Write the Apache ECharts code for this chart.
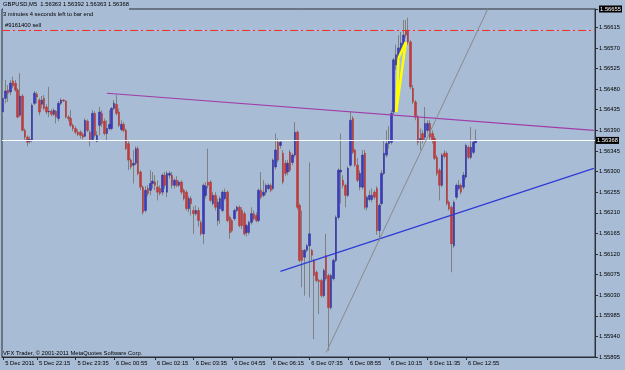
<!DOCTYPE html>
<html><head><meta charset="utf-8">
<script src="https://cdn.jsdelivr.net/npm/echarts@6/dist/echarts.min.js"></script>
<style>html,body{margin:0;padding:0;background:#a8bcd5}#c{width:625px;height:370px}</style>
</head><body><div id="c"></div>
<script>
// ---- data (GBPUSD M5) ----
const openP = [1.56430,1.56460,1.56478,1.56474,1.56498,1.56493,1.56478,1.56423,1.56465,1.56390,1.56375,1.56366,1.56368,1.56449,1.56469,1.56456,1.56447,1.56460,1.56441,1.56430,1.56432,1.56425,1.56432,1.56416,1.56449,1.56456,1.56454,1.56419,1.56416,1.56401,1.56394,1.56386,1.56386,1.56381,1.56377,1.56410,1.56386,1.56370,1.56427,1.56366,1.56401,1.56427,1.56410,1.56383,1.56394,1.56394,1.56438,1.56447,1.56430,1.56392,1.56403,1.56390,1.56361,1.56325,1.56314,1.56318,1.56350,1.56299,1.56266,1.56215,1.56263,1.56259,1.56274,1.56277,1.56266,1.56263,1.56255,1.56292,1.56255,1.56292,1.56292,1.56270,1.56281,1.56270,1.56277,1.56259,1.56255,1.56219,1.56241,1.56215,1.56208,1.56215,1.56189,1.56164,1.56248,1.56277,1.56277,1.56230,1.56248,1.56193,1.56219,1.56215,1.56241,1.56255,1.56200,1.56193,1.56197,1.56215,1.56222,1.56215,1.56208,1.56167,1.56167,1.56189,1.56208,1.56204,1.56193,1.56259,1.56248,1.56255,1.56263,1.56270,1.56263,1.56310,1.56364,1.56357,1.56340,1.56318,1.56299,1.56342,1.56320,1.56336,1.56386,1.56226,1.56128,1.56113,1.56128,1.56138,1.56128,1.56106,1.56080,1.56062,1.56062,1.56029,1.56117,1.56073,1.56003,1.56066,1.56106,1.56200,1.56299,1.56281,1.56270,1.56248,1.56314,1.56416,1.56347,1.56314,1.56266,1.56266,1.56340,1.56222,1.56239,1.56239,1.56255,1.56263,1.56171,1.56230,1.56296,1.56336,1.56361,1.56364,1.56430,1.56533,1.56544,1.56561,1.56572,1.56609,1.56609,1.56583,1.56482,1.56452,1.56419,1.56368,1.56383,1.56375,1.56390,1.56405,1.56383,1.56372,1.56331,1.56303,1.56270,1.56340,1.56340,1.56233,1.56222,1.56138,1.56244,1.56263,1.56270,1.56266,1.56288,1.56353,1.56331,1.56342,1.56363];
const closeP = [1.56460,1.56476,1.56471,1.56493,1.56487,1.56478,1.56419,1.56465,1.56390,1.56375,1.56364,1.56370,1.56445,1.56471,1.56463,1.56430,1.56456,1.56438,1.56430,1.56432,1.56425,1.56434,1.56419,1.56449,1.56456,1.56454,1.56419,1.56416,1.56401,1.56394,1.56386,1.56381,1.56379,1.56375,1.56412,1.56390,1.56368,1.56427,1.56379,1.56379,1.56430,1.56405,1.56383,1.56394,1.56403,1.56438,1.56449,1.56427,1.56401,1.56403,1.56390,1.56350,1.56325,1.56310,1.56318,1.56350,1.56296,1.56266,1.56211,1.56259,1.56252,1.56274,1.56279,1.56270,1.56255,1.56252,1.56292,1.56270,1.56296,1.56296,1.56270,1.56281,1.56270,1.56277,1.56255,1.56241,1.56219,1.56241,1.56230,1.56208,1.56215,1.56193,1.56164,1.56270,1.56268,1.56270,1.56237,1.56248,1.56222,1.56233,1.56241,1.56255,1.56255,1.56193,1.56167,1.56171,1.56215,1.56222,1.56182,1.56182,1.56164,1.56182,1.56189,1.56208,1.56197,1.56193,1.56259,1.56244,1.56255,1.56270,1.56270,1.56259,1.56325,1.56347,1.56325,1.56364,1.56277,1.56296,1.56318,1.56303,1.56336,1.56386,1.56222,1.56106,1.56106,1.56128,1.56138,1.56164,1.56117,1.56073,1.56062,1.56060,1.56029,1.56084,1.56066,1.56003,1.56073,1.56106,1.56200,1.56303,1.56303,1.56270,1.56248,1.56307,1.56412,1.56342,1.56314,1.56281,1.56296,1.56336,1.56222,1.56244,1.56248,1.56248,1.56244,1.56171,1.56226,1.56296,1.56340,1.56361,1.56368,1.56427,1.56544,1.56555,1.56570,1.56581,1.56598,1.56598,1.56583,1.56485,1.56452,1.56419,1.56364,1.56372,1.56368,1.56405,1.56405,1.56375,1.56368,1.56329,1.56296,1.56270,1.56336,1.56333,1.56230,1.56219,1.56142,1.56233,1.56270,1.56270,1.56255,1.56292,1.56357,1.56331,1.56353,1.56364,1.56368];
const highP = [1.56500,1.56500,1.56489,1.56500,1.56507,1.56500,1.56482,1.56515,1.56469,1.56394,1.56379,1.56377,1.56449,1.56476,1.56474,1.56460,1.56465,1.56467,1.56447,1.56485,1.56436,1.56438,1.56434,1.56454,1.56460,1.56458,1.56456,1.56423,1.56434,1.56405,1.56399,1.56392,1.56390,1.56386,1.56416,1.56414,1.56390,1.56434,1.56432,1.56388,1.56441,1.56434,1.56416,1.56412,1.56434,1.56441,1.56456,1.56467,1.56438,1.56412,1.56408,1.56394,1.56368,1.56329,1.56347,1.56355,1.56355,1.56303,1.56270,1.56268,1.56270,1.56303,1.56299,1.56292,1.56281,1.56270,1.56296,1.56299,1.56301,1.56301,1.56299,1.56285,1.56290,1.56281,1.56281,1.56263,1.56259,1.56246,1.56246,1.56224,1.56226,1.56222,1.56193,1.56274,1.56277,1.56350,1.56281,1.56255,1.56255,1.56241,1.56246,1.56259,1.56263,1.56259,1.56204,1.56197,1.56219,1.56226,1.56226,1.56222,1.56213,1.56186,1.56193,1.56222,1.56215,1.56211,1.56263,1.56299,1.56281,1.56274,1.56274,1.56274,1.56329,1.56383,1.56372,1.56368,1.56347,1.56325,1.56325,1.56347,1.56340,1.56408,1.56390,1.56230,1.56215,1.56131,1.56142,1.56320,1.56131,1.56110,1.56084,1.56066,1.56066,1.56088,1.56164,1.56077,1.56077,1.56110,1.56204,1.56307,1.56383,1.56292,1.56274,1.56312,1.56430,1.56421,1.56350,1.56329,1.56303,1.56347,1.56347,1.56248,1.56259,1.56263,1.56259,1.56268,1.56230,1.56303,1.56368,1.56390,1.56399,1.56434,1.56548,1.56577,1.56598,1.56605,1.56631,1.56631,1.56636,1.56587,1.56489,1.56456,1.56423,1.56394,1.56390,1.56441,1.56412,1.56412,1.56390,1.56377,1.56336,1.56307,1.56340,1.56347,1.56344,1.56237,1.56226,1.56237,1.56274,1.56281,1.56274,1.56299,1.56361,1.56357,1.56397,1.56368,1.56392];
const lowP = [1.56421,1.56449,1.56452,1.56467,1.56482,1.56474,1.56416,1.56419,1.56388,1.56368,1.56355,1.56361,1.56364,1.56445,1.56449,1.56423,1.56438,1.56434,1.56425,1.56419,1.56421,1.56421,1.56405,1.56410,1.56445,1.56452,1.56416,1.56410,1.56397,1.56388,1.56381,1.56377,1.56372,1.56370,1.56375,1.56386,1.56355,1.56368,1.56375,1.56364,1.56379,1.56397,1.56379,1.56368,1.56390,1.56390,1.56434,1.56423,1.56397,1.56388,1.56386,1.56347,1.56303,1.56305,1.56274,1.56314,1.56292,1.56259,1.56206,1.56211,1.56246,1.56248,1.56263,1.56259,1.56237,1.56248,1.56248,1.56263,1.56244,1.56285,1.56263,1.56263,1.56266,1.56266,1.56250,1.56237,1.56215,1.56211,1.56204,1.56164,1.56204,1.56180,1.56160,1.56142,1.56241,1.56263,1.56233,1.56226,1.56215,1.56182,1.56186,1.56211,1.56237,1.56189,1.56153,1.56167,1.56193,1.56211,1.56178,1.56175,1.56160,1.56158,1.56162,1.56184,1.56193,1.56189,1.56189,1.56239,1.56244,1.56248,1.56259,1.56255,1.56259,1.56305,1.56320,1.56350,1.56272,1.56290,1.56292,1.56299,1.56314,1.56331,1.56217,1.56102,1.56047,1.56029,1.56124,1.56025,1.56106,1.55934,1.56058,1.55989,1.56025,1.56025,1.56062,1.55909,1.55998,1.56062,1.56102,1.56195,1.56230,1.56263,1.56222,1.56244,1.56310,1.56338,1.56310,1.56277,1.56259,1.56261,1.56217,1.56215,1.56235,1.56233,1.56239,1.56162,1.56149,1.56226,1.56292,1.56331,1.56350,1.56359,1.56425,1.56522,1.56540,1.56555,1.56568,1.56592,1.56577,1.56480,1.56447,1.56412,1.56357,1.56347,1.56361,1.56368,1.56383,1.56368,1.56361,1.56325,1.56290,1.56237,1.56266,1.56329,1.56226,1.56215,1.56080,1.56133,1.56239,1.56259,1.56250,1.56261,1.56283,1.56327,1.56327,1.56338,1.56363];
const totalSlots = 246;                      // bars + empty right shift
const tickIdx = [0,14,30,46,63,79,95,111,127,143,160,176,192];
const tickLabels = ['5 Dec 2011','5 Dec 22:15','5 Dec 23:35','6 Dec 00:55','6 Dec 02:15','6 Dec 03:35','6 Dec 04:55','6 Dec 06:15','6 Dec 07:35','6 Dec 08:55','6 Dec 10:15','6 Dec 11:35','6 Dec 12:55'];
const yMin = 1.55895, yMax = 1.56655, yStep = 0.00045;
const bidPrice = 1.56368;
const orderPrice = 1.56609;
const magentaLine = [[43, 1.56471], [245, 1.56390]];
const blueLine = [[115, 1.56082], [245, 1.56307]];
const grayLine = [[134, 1.55905], [201, 1.56655]];
const yellowTri = [[163, 1.56430], [164, 1.56548], [167, 1.56583]];
const headerText = 'GBPUSD,M5  1.56363 1.56392 1.56363 1.56368';
const timerText = '3 minutes 4 seconds left to bar end';
const orderText = '#9161400 sell';
const footerText = 'VFX Trader, \u00A9 2001-2011 MetaQuotes Software Corp.';

// ---- build ----
const cats = []; for (let i = 0; i < totalSlots; i++) cats.push(String(i));
const wickData = openP.map((o, i) => [o, closeP[i], lowP[i], highP[i]]);
const bodyData = openP.map((o, i) => [o, closeP[i], Math.min(o, closeP[i]), Math.max(o, closeP[i])]);
const FONT = 'Liberation Sans';
const FS = 5.8;
const seg = (a, b, style) => [{coord: a, lineStyle: style}, {coord: b}];
const yel = {color: '#ffff00', width: 2.5, type: 'solid'};

const chart = echarts.init(document.getElementById('c'), null, {renderer: 'canvas'});
chart.setOption({
  animation: false,
  backgroundColor: '#a8bcd5',
  textStyle: {fontFamily: FONT},
  grid: {left: 2, right: 24, top: 9, bottom: 13, show: true, borderColor: '#2a2f36', borderWidth: 1},
  xAxis: {
    type: 'category', data: cats, boundaryGap: true,
    axisLine: {show: true, lineStyle: {color: '#2a2f36', width: 1}},
    axisTick: {show: true, alignWithLabel: true, length: 3, interval: (i) => tickIdx.includes(i), lineStyle: {color: '#2a2f36'}},
    axisLabel: {
      interval: (i) => tickIdx.includes(i), align: 'left', margin: 3, padding: [0, 0, 0, 2],
      fontSize: FS, color: '#000', fontFamily: FONT,
      formatter: (v, i) => { const k = tickIdx.indexOf(i); return k >= 0 ? tickLabels[k] : ''; }
    },
    splitLine: {show: false}
  },
  yAxis: {
    type: 'value', position: 'right', min: yMin, max: yMax, interval: yStep, scale: true,
    axisLine: {show: true, lineStyle: {color: '#2a2f36', width: 1}},
    axisTick: {show: true, length: 3, lineStyle: {color: '#2a2f36'}},
    splitLine: {show: false},
    axisLabel: {
      margin: 4, fontSize: FS, color: '#000', fontFamily: FONT, showMaxLabel: true, showMinLabel: true,
      formatter: (v) => Math.abs(v - yMax) < 1e-7 ? '{box|' + v.toFixed(5) + '}' : v.toFixed(5),
      rich: {box: {backgroundColor: '#000', color: '#fff', fontSize: FS, padding: [1, 1, 0, 1], fontFamily: FONT}}
    }
  },
  series: [
    {
      name: 'wicks', type: 'candlestick', data: wickData, barWidth: 1, silent: true,
      itemStyle: {color: '#808080', color0: '#808080', borderColor: '#808080', borderColor0: '#808080', borderWidth: 1}
    },
    {
      name: 'bodies', type: 'candlestick', data: bodyData, barWidth: 2, silent: true,
      itemStyle: {color: '#3a3ac2', color0: '#c43a3a', borderColor: '#2a2a90', borderColor0: '#b03434', borderWidth: 0.5}
    },
    {
      name: 'objects', type: 'line', data: [], silent: true, z: 5,
      markLine: {
        silent: true, symbol: ['none', 'none'], animation: false, precision: 6, label: {show: false},
        data: [
          {yAxis: orderPrice, lineStyle: {color: '#ff2a2a', width: 1, type: [8, 3, 2, 3]}},
          {yAxis: bidPrice, lineStyle: {color: '#ffffff', width: 1, type: 'solid'},
            label: {show: true, position: 'end', distance: 1, formatter: bidPrice.toFixed(5), backgroundColor: '#000', color: '#fff', fontSize: FS, fontFamily: FONT, padding: [1, 1, 0, 1]}},
          seg(magentaLine[0], magentaLine[1], {color: '#a03ca8', width: 1.2, type: 'solid'}),
          seg(blueLine[0], blueLine[1], {color: '#2f3ad8', width: 1.2, type: 'solid'}),
          seg(grayLine[0], grayLine[1], {color: '#8a8a8a', width: 1, type: 'solid'}),
          seg(yellowTri[0], yellowTri[1], yel),
          seg(yellowTri[0], yellowTri[2], yel),
          seg(yellowTri[1], yellowTri[2], yel)
        ]
      }
    }
  ],
  graphic: [
    {type: 'rect', left: 3, top: 0, shape: {width: 126, height: 11}, style: {fill: '#a8bcd5'}, z: 100},
    {type: 'text', left: 3, top: 1, z: 101, style: {text: headerText, font: FS + 'px "' + FONT + '"', fill: '#000'}},
    {type: 'text', left: 3, top: 11, z: 101, style: {text: timerText, font: FS + 'px "' + FONT + '"', fill: '#000'}},
    {type: 'text', left: 5, top: 22, z: 101, style: {text: orderText, font: FS + 'px "' + FONT + '"', fill: '#000'}},
    {type: 'text', left: 3, top: 350, z: 101, style: {text: footerText, font: FS + 'px "' + FONT + '"', fill: '#000'}}
  ]
});
</script>
</body></html>
